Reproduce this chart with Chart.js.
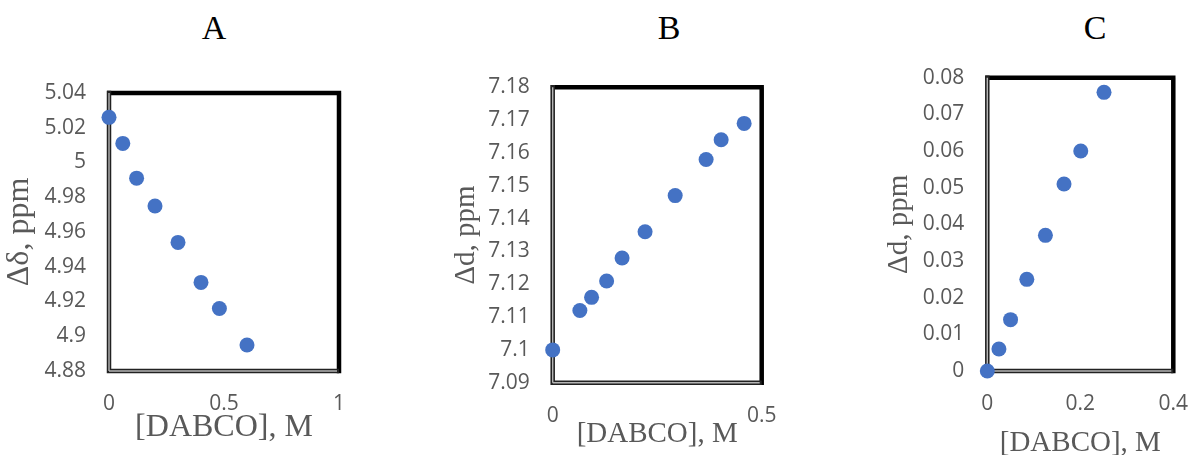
<!DOCTYPE html>
<html>
<head>
<meta charset="utf-8">
<script src="https://cdn.jsdelivr.net/npm/chart.js@4/dist/chart.umd.min.js"></script>
<style>
  html, body { margin: 0; padding: 0; background: #fff; overflow: hidden; }
  body { width: 1189px; height: 455px; position: relative; }
  canvas { position: absolute; top: 0; }
  .ttl { position: absolute; width: 100px; text-align: center; font: 34px/34px "Liberation Serif", serif; color: #000; }
</style>
</head>
<body>
<div class="ttl" style="left:164px;top:11px">A</div>
<div class="ttl" style="left:619px;top:11px">B</div>
<div class="ttl" style="left:1045px;top:11px">C</div>
<canvas id="cA" width="390" height="455" style="left:0"></canvas>
<canvas id="cB" width="400" height="455" style="left:390px"></canvas>
<canvas id="cC" width="400" height="470" style="left:790px"></canvas>
<script>
// A: [DABCO] vs shift
const aX = [0, 0.06, 0.12, 0.2, 0.3, 0.4, 0.48, 0.6];
const aY = [5.026, 5.011, 4.991, 4.975, 4.954, 4.931, 4.916, 4.895];
// B
const bX = [0, 0.065, 0.093, 0.129, 0.166, 0.221, 0.293, 0.367, 0.403, 0.458];
const bY = [7.100, 7.112, 7.116, 7.121, 7.128, 7.136, 7.147, 7.158, 7.164, 7.169];
// C
const cX = [0, 0.025, 0.05, 0.085, 0.125, 0.165, 0.201, 0.251];
const cY = [0, 0.006, 0.014, 0.025, 0.037, 0.051, 0.060, 0.076];

// axis ranges [min, max, step]
const aXRange = [0, 1, 0.5];
const aYRange = [4.88, 5.04, 0.02];
const bXRange = [0, 0.5, 0.5];
const bYRange = [7.09, 7.18, 0.01];
const cXRange = [0, 0.4, 0.2];
const cYRange = [0, 0.08, 0.01];

const xTitle = '[DABCO], M';
const yTitles = ['Δδ, ppm', 'Δd, ppm', 'Δd, ppm'];

const grey = '#595959';
const tickFont = { family: '"Open Sans", sans-serif', size: 21, lineHeight: 1 };

// box round the plot: thick black top/right, double line left/bottom
const frame = {
  id: 'frame',
  beforeDatasetsDraw(chart) {
    const { ctx, chartArea: { left, top, right, bottom } } = chart;
    ctx.save();
    ctx.lineCap = 'butt';
    ctx.strokeStyle = '#000';
    ctx.lineWidth = 4.5;
    ctx.beginPath();
    ctx.moveTo(left - 2, top); ctx.lineTo(right + 2.2, top);
    ctx.moveTo(right, top); ctx.lineTo(right, bottom + 2.2);
    ctx.stroke();
    ctx.strokeStyle = '#222';
    ctx.beginPath();
    ctx.moveTo(left, top - 2.2); ctx.lineTo(left, bottom + 2.2);
    ctx.moveTo(left - 2.2, bottom); ctx.lineTo(right, bottom);
    ctx.stroke();
    ctx.strokeStyle = '#b5b5b5';
    ctx.lineWidth = 1.4;
    ctx.beginPath();
    ctx.moveTo(left, top); ctx.lineTo(left, bottom);
    ctx.moveTo(left, bottom); ctx.lineTo(right - 2, bottom);
    ctx.stroke();
    ctx.restore();
  }
};

function fmt(v) { return String(+v.toFixed(3)); }

function makeChart(id, xs, ys, xr, yr, yTitle, s) {
  return new Chart(document.getElementById(id), {
    type: 'scatter',
    data: {
      datasets: [{
        data: xs.map((x, i) => ({ x: x, y: ys[i] })),
        backgroundColor: '#4472C4',
        borderWidth: 0,
        pointRadius: 7.5,
        pointHoverRadius: 7.5,
        clip: false
      }]
    },
    options: {
      responsive: false,
      animation: false,
      events: [],
      layout: { padding: { left: s.padL, right: s.padR, top: s.padT, bottom: 0 } },
      plugins: { legend: { display: false }, tooltip: { enabled: false } },
      scales: {
        x: {
          type: 'linear', min: xr[0], max: xr[1],
          // invisible tick marks give the gap, so the end label does not squeeze the plot
          grid: { display: true, drawOnChartArea: false, drawTicks: true, tickLength: 23, tickColor: 'rgba(0,0,0,0)' },
          border: { display: false },
          ticks: { stepSize: xr[2], padding: 0, color: grey, font: tickFont, callback: fmt, maxRotation: 0 },
          title: { display: true, text: xTitle, color: grey,
            font: { family: '"Liberation Serif", serif', size: s.tSize, lineHeight: 1 },
            padding: { top: 0, bottom: s.xtPad } },
          afterFit: sc => { sc.height = s.xH; }
        },
        y: {
          type: 'linear', min: yr[0], max: yr[1],
          grid: { display: false, drawTicks: false }, border: { display: false },
          ticks: { stepSize: yr[2], padding: 23, color: grey, font: tickFont, callback: fmt },
          title: { display: true, text: yTitle, color: grey,
            font: { family: '"Liberation Serif", serif', size: s.tSize, lineHeight: 1 },
            padding: { top: s.ytPad, bottom: 0 } },
          afterFit: sc => { sc.width = s.yW; }
        }
      }
    },
    plugins: [frame]
  });
}

makeChart('cA', aX, aY, aXRange, aYRange, yTitles[0],
  { padL: 0, padR: 51, padT: 93, xH: 84, yW: 109, tSize: 32, xtPad: 11, ytPad: 4 });
makeChart('cB', bX, bY, bXRange, bYRange, yTitles[1],
  { padL: 56, padR: 28.3, padT: 87.3, xH: 72.3, yW: 106.7, tSize: 29, xtPad: 6.5, ytPad: 5.5 });
makeChart('cC', cX, cY, cXRange, cYRange, yTitles[2],
  { padL: 89, padR: 16.7, padT: 77.7, xH: 99, yW: 108.3, tSize: 29, xtPad: 12.5, ytPad: 5.5 });
</script>
</body>
</html>
